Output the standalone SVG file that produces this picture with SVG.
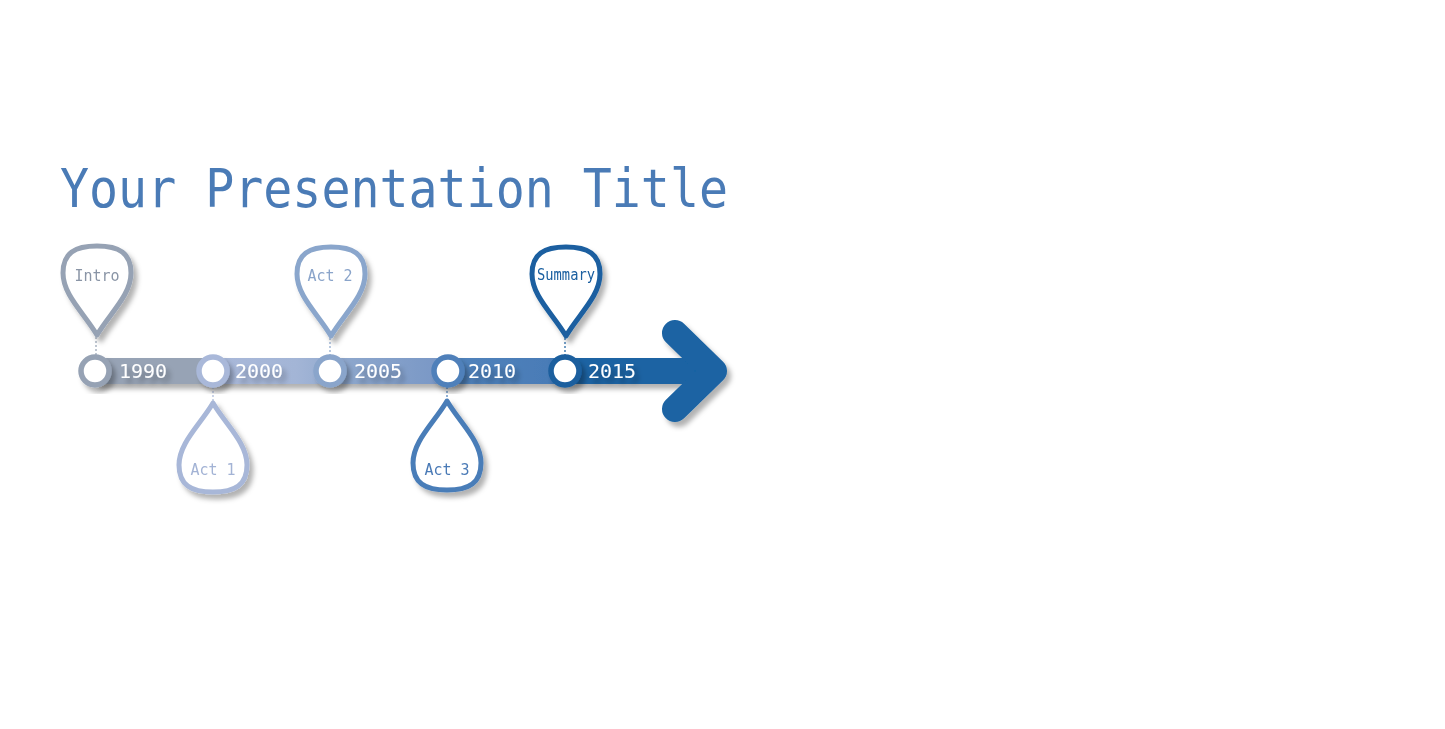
<svg xmlns="http://www.w3.org/2000/svg" width="1445" height="729" viewBox="0 0 1445 729">
<style>
.title{font-family:"DejaVu Sans Mono","Liberation Mono",monospace;font-size:53px;fill:#4A7BB6}
.year{font-family:"DejaVu Sans Mono","Liberation Mono",monospace;font-size:20px;fill:#ffffff}
.lbl{font-family:"DejaVu Sans Mono","Liberation Mono",monospace;font-size:15px;text-anchor:middle}
.pin{fill:#ffffff;stroke-width:5;stroke-linejoin:round}
.ring{fill:#ffffff;stroke-width:5.5}
.dot{stroke-width:1.2;stroke-dasharray:2 2;fill:none}
</style>
<defs>
<filter id="sh" x="-30%" y="-30%" width="160%" height="160%">
<feDropShadow dx="4" dy="5" stdDeviation="2.5" flood-color="#000" flood-opacity="0.3"/>
</filter>
<path id="pinShape" d="M0,0 C-13,-22 -34,-40 -34,-62 C-34,-82 -22,-89 0,-89 C22,-89 34,-82 34,-62 C34,-40 13,-22 0,0 Z"/>
<linearGradient id="barGrad" x1="95" y1="0" x2="705" y2="0" gradientUnits="userSpaceOnUse">
<stop offset="0" stop-color="#97A3B5"/>
<stop offset="0.19" stop-color="#97A3B5"/>
<stop offset="0.2" stop-color="#A9B8D9"/>
<stop offset="0.33" stop-color="#A3B5D6"/>
<stop offset="0.42" stop-color="#8CA6CC"/>
<stop offset="0.56" stop-color="#7A98C6"/>
<stop offset="0.6" stop-color="#5082BB"/>
<stop offset="0.74" stop-color="#4A7CB7"/>
<stop offset="0.8" stop-color="#1A63A3"/>
<stop offset="1" stop-color="#1A63A3"/>
</linearGradient>
</defs>
<rect width="1445" height="729" fill="#ffffff"/>
<g id="title">
<text class="title" x="60" y="207" textLength="668" lengthAdjust="spacingAndGlyphs">Your Presentation Title</text>
</g>
<g id="timeline" filter="url(#sh)">
<rect x="95" y="358" width="612" height="26" fill="url(#barGrad)"/>
<polyline points="675,333 714,371 675,409" fill="none" stroke="#1A63A3" stroke-width="26" stroke-linecap="round" stroke-linejoin="round"/>
</g>
<g id="connectors">
<line class="dot" x1="96" y1="337" x2="96" y2="355" stroke="#96A2B4"/>
<line class="dot" x1="213" y1="387" x2="213" y2="403" stroke="#A8B7D8"/>
<line class="dot" x1="330" y1="338" x2="330" y2="355" stroke="#8AA6CC"/>
<line class="dot" x1="447" y1="387" x2="447" y2="402" stroke="#4A7DB8"/>
<line class="dot" x1="565" y1="338" x2="565" y2="355" stroke="#1A5FA0"/>
</g>
<g id="node-1990" filter="url(#sh)">
<circle class="ring" cx="95" cy="371" r="14" stroke="#96A2B4"/>
<text class="year" x="119" y="378">1990</text>
</g>
<g id="node-2000" filter="url(#sh)">
<circle class="ring" cx="213" cy="371" r="14" stroke="#A9B8D9"/>
<text class="year" x="235" y="378">2000</text>
</g>
<g id="node-2005" filter="url(#sh)">
<circle class="ring" cx="330" cy="371" r="14" stroke="#8AA5CB"/>
<text class="year" x="354" y="378">2005</text>
</g>
<g id="node-2010" filter="url(#sh)">
<circle class="ring" cx="448" cy="371" r="14" stroke="#4F80BA"/>
<text class="year" x="468" y="378">2010</text>
</g>
<g id="node-2015" filter="url(#sh)">
<circle class="ring" cx="565" cy="371" r="14" stroke="#1A5E9E"/>
<text class="year" x="588" y="378">2015</text>
</g>
<g id="pin-intro" filter="url(#sh)">
<use href="#pinShape" class="pin" transform="translate(97,335)" stroke="#96A2B4"/>
<text class="lbl" x="97" y="281" fill="#8A95A6">Intro</text>
</g>
<g id="pin-act1" filter="url(#sh)">
<use href="#pinShape" class="pin" transform="translate(213,403) scale(1,-1)" stroke="#A8B7D8"/>
<text class="lbl" x="213" y="475" fill="#A3B3D5">Act 1</text>
</g>
<g id="pin-act2" filter="url(#sh)">
<use href="#pinShape" class="pin" transform="translate(331,336)" stroke="#8AA6CC"/>
<text class="lbl" x="330" y="281" fill="#8AA4CA">Act 2</text>
</g>
<g id="pin-act3" filter="url(#sh)">
<use href="#pinShape" class="pin" transform="translate(447,401) scale(1,-1)" stroke="#4A7DB8"/>
<text class="lbl" x="447" y="475" fill="#4A7AB6">Act 3</text>
</g>
<g id="pin-summary" filter="url(#sh)">
<use href="#pinShape" class="pin" transform="translate(566,336)" stroke="#1A5FA0"/>
<text class="lbl" x="566" y="280" fill="#1A5FA0" textLength="58" lengthAdjust="spacingAndGlyphs">Summary</text>
</g>
</svg>
